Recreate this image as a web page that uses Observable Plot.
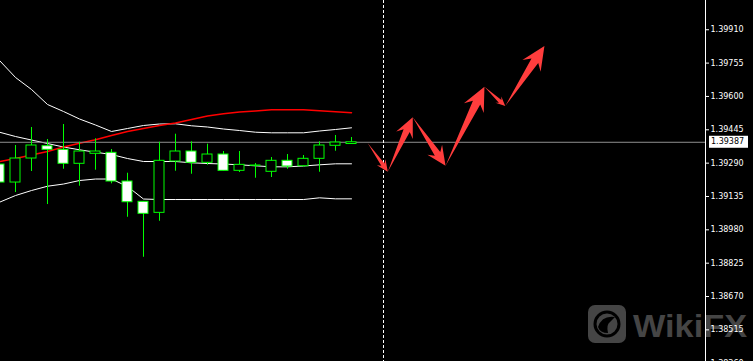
<!DOCTYPE html>
<html><head><meta charset="utf-8">
<script src="https://cdn.jsdelivr.net/npm/d3@7"></script>
<script src="https://cdn.jsdelivr.net/npm/@observablehq/plot@0.6"></script>
<style>html,body{margin:0;padding:0;background:#000;overflow:hidden}</style>
</head><body><div id="chart"></div>
<script>
// ---- data ----
const candleOpen  = [1.392836,1.391999,1.393115,1.393687,1.393520,1.392869,1.393334,1.393380,1.392046,1.391102,1.390590,1.392976,1.393441,1.392915,1.393301,1.392543,1.392776,1.392497,1.393008,1.392757,1.393101,1.393706,1.393789];
const candleHigh  = [1.393022,1.393720,1.394557,1.393999,1.394696,1.393873,1.394031,1.393534,1.392431,1.391110,1.393873,1.394245,1.393892,1.393780,1.393441,1.393441,1.392883,1.393162,1.393301,1.393255,1.393892,1.394185,1.394092];
const candleLow   = [1.391813,1.391534,1.392511,1.390976,1.392617,1.391827,1.392571,1.391939,1.390385,1.388525,1.390199,1.392524,1.392385,1.392803,1.392543,1.392464,1.392199,1.392232,1.392617,1.392710,1.392478,1.393454,1.393775];
const candleClose = [1.391999,1.393115,1.393720,1.393520,1.392869,1.393441,1.393441,1.392046,1.391083,1.390544,1.393008,1.393441,1.392915,1.393301,1.392543,1.392822,1.392790,1.393008,1.392743,1.393101,1.393720,1.393859,1.393870];
const bandUpper   = [1.397672,1.396882,1.396324,1.395626,1.395301,1.394952,1.394673,1.394371,1.394510,1.394650,1.394719,1.394729,1.394636,1.394580,1.394487,1.394417,1.394338,1.394310,1.394310,1.394310,1.394394,1.394464,1.394543];
const bandMiddle  = [1.394338,1.394138,1.393975,1.393813,1.393650,1.393520,1.393408,1.393301,1.393115,1.392976,1.392976,1.392976,1.392915,1.392883,1.392859,1.392822,1.392776,1.392729,1.392729,1.392766,1.392822,1.392869,1.392869];
const bandLower   = [1.391083,1.391395,1.391627,1.391827,1.391929,1.392092,1.392162,1.392162,1.391813,1.391232,1.391209,1.391209,1.391209,1.391209,1.391209,1.391209,1.391209,1.391209,1.391209,1.391209,1.391288,1.391241,1.391241];
const maRed       = [1.392976,1.393115,1.393278,1.393441,1.393650,1.393826,1.393985,1.394185,1.394371,1.394510,1.394650,1.394766,1.394929,1.395091,1.395194,1.395277,1.395324,1.395380,1.395380,1.395380,1.395338,1.395287,1.395240];
const priceTicks  = [1.39910,1.39755,1.39600,1.39445,1.39290,1.39135,1.38980,1.38825,1.38670,1.38515,1.38360];
const lastPrice   = 1.39387;
const forecastStart = 24;
const arrowIndex  = [23.05,24.30,25.86,27.91,30.34,31.64,34.09];
const arrowPrice  = [1.39380,1.39248,1.39501,1.39276,1.39643,1.39553,1.39832];
const watermarkText = "WikiFX";

// ---- tables ----
const candles = candleOpen.map((o, i) => ({i, open: o, high: candleHigh[i], low: candleLow[i], close: candleClose[i]}));
const bulls = candles.filter(d => d.close >= d.open);
const bears = candles.filter(d => d.close < d.open);
const bands = bandUpper.map((u, i) => ({i, upper: u, middle: bandMiddle[i], lower: bandLower[i], ma: maRed[i]}));
const xDomain = [0.0625, 44.125];
const yDomain = [1.38368, 1.40046];
const halfBody = 0.3125;
const green = "#00ff00";
const arrowColor = "#ff3d3d";

function arrows(index, scales) {
  const g = d3.create("svg:g").attr("fill", arrowColor);
  for (let k = 0; k < arrowIndex.length - 1; k++) {
    const tx = scales.x(arrowIndex[k]), ty = scales.y(arrowPrice[k]);
    const px = scales.x(arrowIndex[k + 1]), py = scales.y(arrowPrice[k + 1]);
    const dx = px - tx, dy = py - ty, len = Math.hypot(dx, dy);
    const ux = dx / len, uy = dy / len, nx = -uy, ny = ux;
    const h = Math.min(24, 0.33 * len), bw = 0.46 * h, j = 0.74 * h, sw = Math.max(1.8, 0.17 * h);
    const pts = [
      [tx, ty],
      [px - ux * j + nx * sw, py - uy * j + ny * sw],
      [px - ux * h + nx * bw, py - uy * h + ny * bw],
      [px, py],
      [px - ux * h - nx * bw, py - uy * h - ny * bw],
      [px - ux * j - nx * sw, py - uy * j - ny * sw]
    ];
    g.append("path").attr("d", "M" + pts.map(p => p.map(v => v.toFixed(2)).join(",")).join("L") + "Z");
  }
  return g.node();
}

function watermark(index, scales, values, dim) {
  const g = d3.create("svg:g");
  const x0 = dim.width - 165, y0 = dim.height - 56;
  g.append("rect").attr("x", x0).attr("y", y0).attr("width", 38).attr("height", 38).attr("rx", 7).attr("fill", "#454545");
  g.append("circle").attr("cx", x0 + 19).attr("cy", y0 + 19).attr("r", 12).attr("fill", "none").attr("stroke", "#000").attr("stroke-width", 3);
  g.append("path").attr("d", `M${x0+10},${y0+22} Q${x0+14},${y0+10} ${x0+27},${y0+12} L${x0+22},${y0+17} Q${x0+18},${y0+20} ${x0+20},${y0+28} Q${x0+12},${y0+28} ${x0+10},${y0+22}Z`).attr("fill", "#000");
  g.append("text").attr("x", x0 + 45).attr("y", y0 + 32).attr("fill", "#454545").attr("text-anchor", "start")
    .attr("font-family", "Liberation Sans, Arial, sans-serif").attr("font-weight", "bold").attr("font-size", 32)
    .attr("textLength", 114).attr("lengthAdjust", "spacingAndGlyphs").text(watermarkText);
  return g.node();
}

function priceLabel(index, scales, values, dim) {
  const g = d3.create("svg:g");
  const xr = dim.width - dim.marginRight;
  const y = scales.y(lastPrice);
  g.append("rect").attr("x", xr + 4).attr("y", y - 6).attr("width", 39).attr("height", 12).attr("fill", "#fff");
  g.append("text").attr("x", xr + 6).attr("y", y).attr("dy", "0.34em").attr("fill", "#000").attr("text-anchor", "start")
    .attr("font-size", 8).text(d3.format(".5f")(lastPrice));
  return g.node();
}

const chart = Plot.plot({
  width: 753, height: 361,
  marginLeft: 0, marginRight: 48, marginTop: 0, marginBottom: 0,
  style: {background: "#000", color: "#fff", fontFamily: "DejaVu Sans, sans-serif", fontSize: "8px"},
  x: {type: "linear", domain: xDomain, axis: null},
  y: {domain: yDomain, axis: null},
  marks: [
    watermark,
    Plot.line(bands, {x: "i", y: "upper", stroke: "#fff", strokeWidth: 1}),
    Plot.line(bands, {x: "i", y: "middle", stroke: "#fff", strokeWidth: 1}),
    Plot.line(bands, {x: "i", y: "lower", stroke: "#fff", strokeWidth: 1}),
    Plot.line(bands, {x: "i", y: "ma", stroke: "#ff0000", strokeWidth: 1.5}),
    Plot.ruleY([lastPrice], {stroke: "#8f8f8f"}),
    Plot.ruleX(candles, {x: "i", y1: "low", y2: "high", stroke: green}),
    Plot.rect(bulls, {x1: d => d.i - halfBody, x2: d => d.i + halfBody, y1: "open", y2: "close", fill: "#000", stroke: green}),
    Plot.rect(bears, {x1: d => d.i - halfBody, x2: d => d.i + halfBody, y1: "open", y2: "close", fill: "#fff", stroke: green}),
    Plot.ruleX([forecastStart], {stroke: "#fff", strokeDasharray: "3,2"}),
    arrows,
    Plot.ruleX([xDomain[1]], {stroke: "#fff"}),
    Plot.axisY(priceTicks, {anchor: "right", tickSize: 3, tickPadding: 2, tickFormat: d3.format(".5f"), label: null, fontSize: 8, stroke: "#fff", fill: "#fff"}),
    priceLabel
  ]
});
document.getElementById("chart").appendChild(chart);
</script>
</body></html>
